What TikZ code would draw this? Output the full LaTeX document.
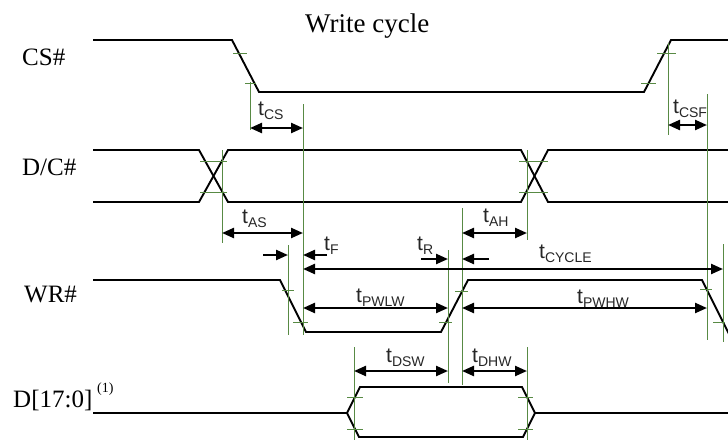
\documentclass[tikz,border=0pt]{standalone}
\usepackage{fontspec}
\setmainfont{Liberation Serif}
\setsansfont{Liberation Sans}
\usetikzlibrary{arrows.meta}
\definecolor{grn}{RGB}{88,138,68}
\newcommand\tlab[1]{{\fontsize{21}{21}\selectfont t}\raisebox{-4pt}{\fontsize{14}{14}\selectfont #1}}
\begin{document}
\begin{tikzpicture}[x=1pt,y=-1pt,
  sig/.style={line width=1.9pt},
  guide/.style={grn, line width=1pt},
  tickm/.style={grn, line width=1pt},
  dim/.style={line width=2.3pt, {Triangle[length=12pt,width=10pt]}-{Triangle[length=12pt,width=10pt]}},
  half/.style={line width=2.3pt, -{Triangle[length=12pt,width=10pt]}},
  lbl/.style={font=\fontsize{25}{25}\selectfont, anchor=base west, inner sep=0pt},
  tl/.style={font=\sffamily, anchor=base west, inner sep=0pt, text=black!85}]
\useasboundingbox (0,0) rectangle (728,439);

% title and signal names
\node[lbl, font=\fontsize{27}{27}\selectfont] (title) at (305,32) {Write cycle};
\node[lbl] (cs) at (22,65) {CS\#};
\node[lbl] (dc) at (22,175) {D/C\#};
\node[lbl] (wr) at (24,302) {WR\#};
\node[lbl] (d) at (13,407) {D[17:0]};
\node[lbl, font=\fontsize{14}{14}\selectfont] (dnote) at (97,392) {(1)};

% signals
\draw[sig] (93,40) -- (232,40) -- (259,92) -- (644,92) -- (671,40) -- (730,40);
\draw[sig] (93,150) -- (199,150) -- (228,202) -- (521,202) -- (548,150) -- (730,150);
\draw[sig] (93,202) -- (199,202) -- (228,150) -- (521,150) -- (548,202) -- (730,202);
\draw[sig] (93,280) -- (280,280) -- (306,332) -- (441,332) -- (468,280) -- (702,280) -- (729,334);
\draw[sig] (93,413) -- (347,413) -- (360,387) -- (522,387) -- (535,413) -- (730,413);
\draw[sig] (347,413) -- (359,437) -- (523,437) -- (535,413);

% level ticks
\draw[tickm] (233,53) -- (247,53) (245,83) -- (256,83);
\draw[tickm] (657,53) -- (676,53) (641,83) -- (656,83);
\draw[tickm] (200,161) -- (227,161) (200,192) -- (227,192);
\draw[tickm] (519,161) -- (548,161) (519,192) -- (548,192);
\draw[tickm] (282,290) -- (294,290) (293,322) -- (308,322);
\draw[tickm] (455,291) -- (468,291) (439,322) -- (452,322);
\draw[tickm] (700,289) -- (712,289) (713,322) -- (725,322);
\draw[tickm] (347,397) -- (363,397) (347,429) -- (363,429);
\draw[tickm] (518,397) -- (533,397) (518,429) -- (533,429);

% guide lines
\coordinate (g250) at (250,82);
\coordinate (g303) at (303,104);
\coordinate (g222) at (222,150);
\coordinate (g527a) at (527,150);
\coordinate (g668) at (668,43);
\coordinate (g707) at (707,94);
\coordinate (g288) at (288,245);
\coordinate (g723) at (723,244);
\coordinate (g448) at (448,250);
\coordinate (g462) at (462,208);
\coordinate (g354) at (354,347);
\coordinate (g527b) at (527,347);
\draw[guide] (g250) -- ++(0,48);
\draw[guide] (g303) -- ++(0,231);
\draw[guide] (g222) -- ++(0,93);
\draw[guide] (g527a) -- ++(0,90);
\draw[guide] (g668) -- ++(0,92);
\draw[guide] (g707) -- ++(0,246);
\draw[guide] (g288) -- ++(0,90);
\draw[guide] (g723) -- ++(0,98);
\draw[guide] (g448) -- ++(0,133);
\draw[guide] (g462) -- ++(0,177);
\draw[guide] (g354) -- ++(0,95);
\draw[guide] (g527b) -- ++(0,95);

% dimension arrows
\draw[dim] (g250 |- 0,128) -- (g303 |- 0,128);
\draw[dim] (g668 |- 0,125) -- (g707 |- 0,125);
\draw[dim] (g222 |- 0,233) -- (g303 |- 0,233);
\draw[dim] (g462 |- 0,233) -- (g527a |- 0,233);
\draw[half] (263,255) -- (g288 |- 0,255);
\draw[half] (327,255) -- (g303 |- 0,255);
\draw[half] (421,259) -- (g448 |- 0,259);
\draw[half] (489,259) -- (g462 |- 0,259);
\draw[dim] (g303 |- 0,269) -- (g723 |- 0,269);
\draw[dim] (g303 |- 0,308) -- (g448 |- 0,308);
\draw[dim] (g462 |- 0,308) -- (g707 |- 0,308);
\draw[dim] (g354 |- 0,371) -- (g448 |- 0,371);
\draw[dim] (g462 |- 0,371) -- (g527b |- 0,371);

% timing labels
\node[tl] (tcs) at (258,115) {\tlab{CS}};
\node[tl] (tcsf) at (673,113) {\tlab{CSF}};
\node[tl] (tas) at (242,223) {\tlab{AS}};
\node[tl] (tah) at (483,222) {\tlab{AH}};
\node[tl] (tf) at (324,250) {\tlab{F}};
\node[tl] (tr) at (417,250) {\tlab{R}};
\node[tl] (tcyc) at (539,258) {\tlab{CYCLE}};
\node[tl] (tpwlw) at (356,302) {\tlab{PWLW}};
\node[tl] (tpwhw) at (577,303) {\tlab{PWHW}};
\node[tl] (tdsw) at (386,362) {\tlab{DSW}};
\node[tl] (tdhw) at (472,362) {\tlab{DHW}};
\end{tikzpicture}
\end{document}
